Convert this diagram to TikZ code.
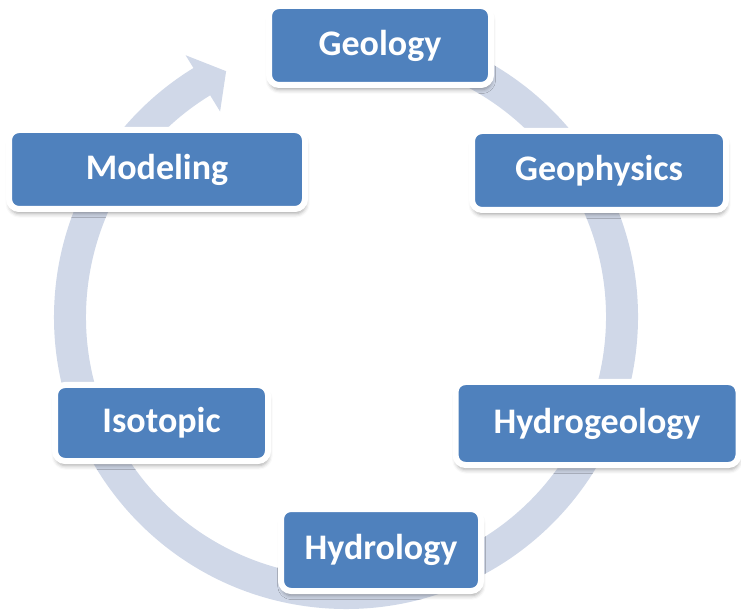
\documentclass[tikz,border=0pt]{standalone}
\usepackage{fontspec}
\setmainfont{Carlito}
\usetikzlibrary{shadows.blur,calc}
\definecolor{bandc}{RGB}{208,216,232}
\definecolor{boxblue}{RGB}{79,129,189}
\begin{document}
\begin{tikzpicture}[x=0.75pt,y=0.75pt,
  box/.style 2 args={draw=white, line width=4.5pt, fill=boxblue, rounded corners=7.5pt,
    minimum width=#1*0.75pt, minimum height=#2*0.75pt, inner sep=0pt, text=white,
    font=\fontsize{27}{32}\selectfont\bfseries,
    blur shadow={shadow xshift=0.5pt, shadow yshift=-3.5pt, shadow blur radius=3pt, shadow opacity=35}}]
\useasboundingbox (0,0) rectangle (741,610);
\coordinate (C) at (346,293);
\fill[bandc] ($(C)+(85:292)$) arc[start angle=85, end angle=-238.5, radius=292]
  -- ($(C)+(-238.5:307)$) -- ($(C)+(-244:273.5)$) -- ($(C)+(-238.5:241)$)
  -- ($(C)+(-238.5:260)$) arc[start angle=-238.5, end angle=85, radius=260] -- cycle;
\node[box={222}{79}] (geo) at (380,564.5) {Geology};
\node[box={254}{79}] (gph) at (599,439.5) {Geophysics};
\node[box={296}{79}] (mod) at (157,440.5) {Modeling};
\node[box={283}{83}] (hgeo) at (597,186.5) {Hydrogeology};
\node[box={213}{76}] (iso) at (161.5,187) {Isotopic};
\node[box={200}{82}] (hyd) at (381,60) {Hydrology};
\end{tikzpicture}
\end{document}
